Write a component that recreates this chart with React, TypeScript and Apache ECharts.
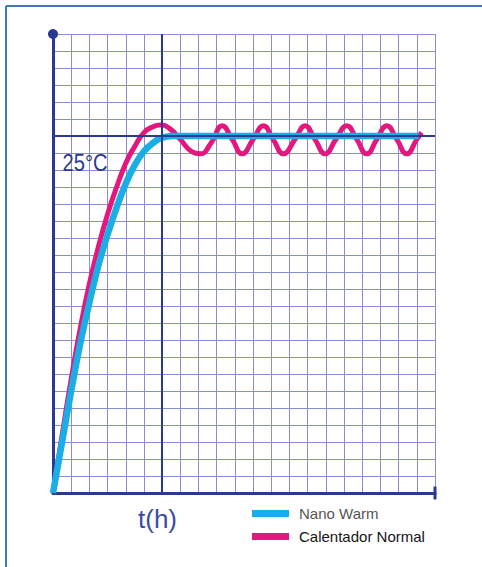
import React, { useEffect, useRef } from "react";
import * as echarts from "echarts";

// Grid units: x = time steps (0..21), y = temperature steps (0..27); 25°C sits at level 21
const X_MAX = 21;
const Y_MAX = 27;
const TEMP_LEVEL = 21;
const T_MARK = 6;

const seriesNames = ["Nano Warm", "Calentador Normal"];

const nanoWarmT = [0, 0.5, 1, 1.5, 2, 2.5, 3, 3.5, 4, 4.5, 5, 5.5, 6, 6.6, 20.1];
const nanoWarmLevel = [0, 3.0, 6.0, 8.8, 11.2, 13.4, 15.2, 16.8, 18.2, 19.3, 20.1, 20.6, 20.9, 21, 21];

const normalT = [
  0, 0.5, 1, 1.5, 2, 2.5, 3, 3.5, 4, 4.5, 5, 5.5, 5.9, 6.4, 7.0, 7.6, 8.1, 8.7, 9.3, 9.85,
  10.4, 11.0, 11.57, 12.1, 12.67, 13.3, 13.86, 14.4, 14.96, 15.55, 16.15, 16.7, 17.25, 17.8,
  18.35, 18.9, 19.45, 20.0, 20.27,
];
const normalLevel = [
  0, 3.4, 6.7, 9.7, 12.3, 14.5, 16.4, 18.0, 19.4, 20.4, 21.2, 21.55, 21.65, 21.45, 20.8, 20.1,
  19.95, 20.6, 21.6, 20.8, 19.95, 20.8, 21.6, 20.8, 19.95, 20.8, 21.6, 20.8, 19.95, 20.8, 21.6,
  20.8, 19.95, 20.8, 21.6, 20.8, 19.95, 20.8, 21.2,
];

const tempLabel = "25°C";
const timeLabel = "t(h)";

const BLUE = "#1aaee6";
const PINK = "#e5167e";
const NAVY = "#2c3990";
const GRIDLINE = "#8a8dd0";

export default function App() {
  const ref = useRef<HTMLDivElement>(null);

  useEffect(() => {
    if (!ref.current) return;
    const chart = echarts.init(ref.current, null, { renderer: "svg" });
    const zip = (xs: number[], ys: number[]) => xs.map((x, i) => [x, ys[i]]);

    chart.setOption({
      animation: false,
      backgroundColor: "#ffffff",
      grid: { left: 53, top: 34, width: 382, height: 459, containLabel: false },
      xAxis: {
        type: "value",
        min: 0,
        max: X_MAX,
        interval: 1,
        axisLabel: { show: false },
        axisTick: { show: false },
        axisLine: {
          show: true,
          onZero: false,
          lineStyle: { color: NAVY, width: 3 },
          symbol: ["none", "rect"],
          symbolSize: [13, 3],
        },
        splitLine: { show: true, lineStyle: { color: GRIDLINE, width: 1 } },
      },
      yAxis: {
        type: "value",
        min: 0,
        max: Y_MAX,
        interval: 1,
        axisLabel: { show: false },
        axisTick: { show: false },
        axisLine: {
          show: true,
          onZero: false,
          lineStyle: { color: NAVY, width: 3 },
          symbol: ["none", "circle"],
          symbolSize: [10, 10],
        },
        splitLine: { show: true, lineStyle: { color: GRIDLINE, width: 1 } },
      },
      legend: {
        data: seriesNames.map((n, i) => ({
          name: n,
          icon: "rect",
          textStyle: { color: i === 0 ? "#555555" : "#151515" },
        })),
        orient: "vertical",
        left: 252,
        top: 506,
        padding: 0,
        itemWidth: 37,
        itemHeight: 7,
        itemGap: 8,
        selectedMode: false,
        textStyle: {
          fontFamily: "Liberation Sans",
          fontSize: 15,
          padding: [0, 0, 0, 5],
        },
      },
      series: [
        {
          name: "guides",
          type: "line",
          data: [],
          silent: true,
          markLine: {
            silent: true,
            symbol: "none",
            label: { show: false },
            lineStyle: { color: NAVY, width: 2, type: "solid" },
            data: [{ yAxis: TEMP_LEVEL }, { xAxis: T_MARK }],
          },
        },
        {
          name: seriesNames[1],
          type: "line",
          data: zip(normalT, normalLevel),
          smooth: 0.5,
          showSymbol: false,
          color: PINK,
          lineStyle: { color: PINK, width: 5 },
          z: 3,
        },
        {
          name: seriesNames[0],
          type: "line",
          data: zip(nanoWarmT, nanoWarmLevel),
          smooth: 0.4,
          showSymbol: false,
          color: BLUE,
          lineStyle: { color: BLUE, width: 6.5 },
          z: 4,
        },
      ],
      graphic: [
        {
          type: "line",
          shape: { x1: 6, y1: 6, x2: 482, y2: 6 },
          style: { stroke: "#4474c0", lineWidth: 2 },
          silent: true,
        },
        {
          type: "line",
          shape: { x1: 6, y1: 6, x2: 6, y2: 567 },
          style: { stroke: "#4474c0", lineWidth: 2 },
          silent: true,
        },
        {
          type: "text",
          x: 85,
          y: 163,
          scaleX: 0.84,
          style: {
            text: tempLabel,
            fill: NAVY,
            font: "24px 'Liberation Sans'",
            textAlign: "center",
            textVerticalAlign: "middle",
          },
          z: 10,
        },
        {
          type: "text",
          x: 157.5,
          y: 519,
          style: {
            text: timeLabel,
            fill: "#3d4ca3",
            font: "26px 'Liberation Sans'",
            textAlign: "center",
            textVerticalAlign: "middle",
          },
          z: 10,
        },
      ],
    });

    return () => chart.dispose();
  }, []);

  return (
    <div
      ref={ref}
      style={{ position: "absolute", left: 0, top: 0, width: 482, height: 567, background: "#fff" }}
    />
  );
}
